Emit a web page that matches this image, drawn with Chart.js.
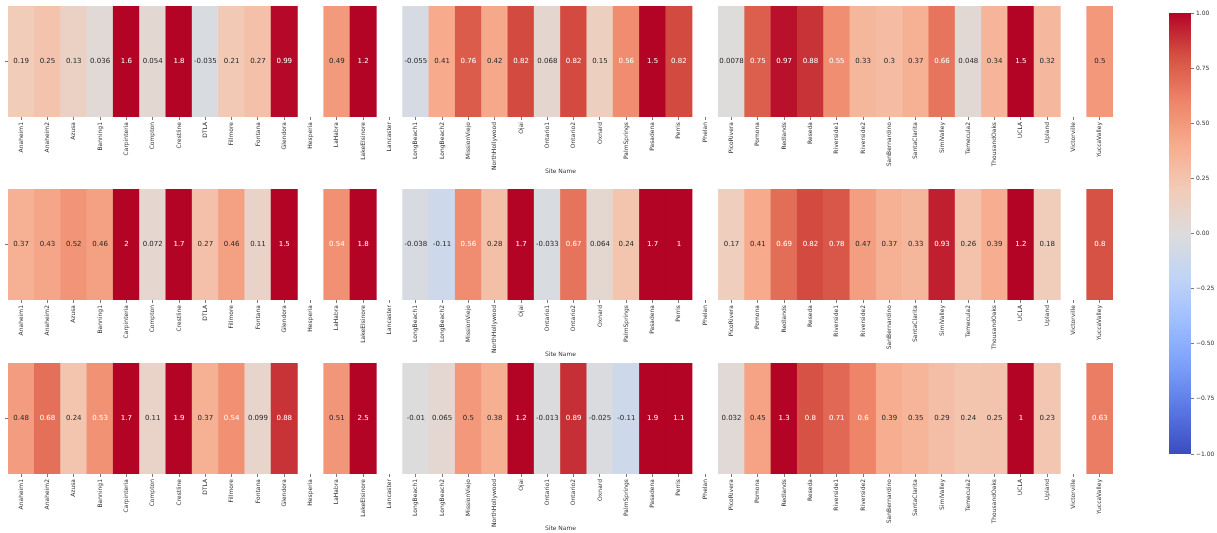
<!DOCTYPE html>
<html>
<head>
<meta charset="utf-8">
<script src="https://cdn.jsdelivr.net/npm/chart.js@4"></script>
<style>
body { margin: 0; background: #fff; width: 1217px; height: 533px; overflow: hidden; position: relative; }
canvas { position: absolute; }
</style>
</head>
<body>
<canvas id="row1" width="1120" height="178" style="left:0;top:0"></canvas>
<canvas id="row2" width="1120" height="178" style="left:0;top:183px"></canvas>
<canvas id="row3" width="1120" height="178" style="left:0;top:357px"></canvas>
<canvas id="colorbar" width="67" height="533" style="left:1150px;top:0"></canvas>
<script>
// Site names along the x axis (same for all three heatmaps)
const sites = ['Anaheim1', 'Anaheim2', 'Azusa', 'Banning1', 'Carpinteria', 'Compton', 'Crestline', 'DTLA',
    'Fillmore', 'Fontana', 'Glendora', 'Hesperia', 'LaHabra', 'LakeElsinore', 'Lancaster', 'LongBeach1',
    'LongBeach2', 'MissionViejo', 'NorthHollywood', 'Ojai', 'Ontario1', 'Ontario2', 'Oxnard', 'PalmSprings',
    'Pasadena', 'Perris', 'Phelan', 'PicoRivera', 'Pomona', 'Redlands', 'Reseda', 'Riverside1', 'Riverside2',
    'SanBernardino', 'SantaClarita', 'SimiValley', 'Temecula2', 'ThousandOaks', 'UCLA', 'Upland',
    'Victorville', 'YuccaValley'];

// Cell values (null = no data for that site)
const row1Values = [0.19, 0.25, 0.13, 0.036, 1.6, 0.054, 1.8, -0.035, 0.21, 0.27, 0.99, null, 0.49, 1.2, null,
    -0.055, 0.41, 0.76, 0.42, 0.82, 0.068, 0.82, 0.15, 0.56, 1.5, 0.82, null, 0.0078, 0.75, 0.97, 0.88, 0.55,
    0.33, 0.3, 0.37, 0.66, 0.048, 0.34, 1.5, 0.32, null, 0.5];
const row2Values = [0.37, 0.43, 0.52, 0.46, 2, 0.072, 1.7, 0.27, 0.46, 0.11, 1.5, null, 0.54, 1.8, null,
    -0.038, -0.11, 0.56, 0.28, 1.7, -0.033, 0.67, 0.064, 0.24, 1.7, 1, null, 0.17, 0.41, 0.69, 0.82, 0.78,
    0.47, 0.37, 0.33, 0.93, 0.26, 0.39, 1.2, 0.18, null, 0.8];
const row3Values = [0.48, 0.68, 0.24, 0.53, 1.7, 0.11, 1.9, 0.37, 0.54, 0.099, 0.88, null, 0.51, 2.5, null,
    -0.01, 0.065, 0.5, 0.38, 1.2, -0.013, 0.89, -0.025, -0.11, 1.9, 1.1, null, 0.032, 0.45, 1.3, 0.8, 0.71,
    0.6, 0.39, 0.35, 0.29, 0.24, 0.25, 1, 0.23, null, 0.63];

// Colour scale range and colorbar ticks
const colorMin = -1;
const colorMax = 1;
const colorbarTicks = [-1, -0.75, -0.5, -0.25, 0, 0.25, 0.5, 0.75, 1];

// coolwarm colormap sampled at 0, 0.1, ... 1
const coolwarmStops = ['#3b4cc0', '#5977e3', '#7b9ff9', '#9ebeff', '#c0d4f5', '#dddcdc',
    '#f2cbb7', '#f7ac8e', '#ee8468', '#d65244', '#b40426'];

const FONT = 'DejaVu Sans';
const TEXT_DARK = '#262626';

function hexToRgb(h) {
    return [parseInt(h.substr(1, 2), 16), parseInt(h.substr(3, 2), 16), parseInt(h.substr(5, 2), 16)];
}

function coolwarmRgb(v) {
    var t = (v - colorMin) / (colorMax - colorMin);
    t = Math.max(0, Math.min(1, t));
    var pos = t * (coolwarmStops.length - 1);
    var i = Math.min(Math.floor(pos), coolwarmStops.length - 2);
    var f = pos - i;
    var a = hexToRgb(coolwarmStops[i]), b = hexToRgb(coolwarmStops[i + 1]);
    return [0, 1, 2].map(k => Math.round(a[k] + (b[k] - a[k]) * f));
}

function coolwarm(v) {
    var c = coolwarmRgb(v);
    return 'rgb(' + c.join(',') + ')';
}

// same rule seaborn uses to pick annotation colour
function textColorFor(v) {
    var c = coolwarmRgb(v).map(x => {
        x = x / 255;
        return x <= 0.03928 ? x / 12.92 : Math.pow((x + 0.055) / 1.055, 2.4);
    });
    var lum = 0.2126 * c[0] + 0.7152 * c[1] + 0.0722 * c[2];
    return lum > 0.408 ? TEXT_DARK : '#ffffff';
}

// like python's ".2g"
function fmt(v) {
    var s = v.toPrecision(2);
    if (s.indexOf('.') >= 0) s = s.replace(/0+$/, '').replace(/\.$/, '');
    return s;
}

function makeRow(id, values) {
    // draws the value in the middle of each cell
    var cellText = {
        id: 'cellText_' + id,
        afterDatasetsDraw: function (chart) {
            var ctx = chart.ctx;
            var area = chart.chartArea;
            var meta = chart.getDatasetMeta(0);
            ctx.save();
            ctx.font = '7px "' + FONT + '"';
            ctx.textAlign = 'center';
            ctx.textBaseline = 'middle';
            meta.data.forEach(function (bar, i) {
                if (values[i] === null) return;
                ctx.fillStyle = textColorFor(values[i]);
                ctx.fillText(fmt(values[i]), bar.x, (area.top + area.bottom) / 2);
            });
            ctx.restore();
        }
    };

    return new Chart(document.getElementById(id), {
        type: 'bar',
        data: {
            labels: sites,
            datasets: [{
                data: values.map(v => v === null ? null : [0, 1]),
                backgroundColor: values.map(v => v === null ? 'rgba(0,0,0,0)' : coolwarm(v)),
                borderWidth: 0,
                barPercentage: 1,
                categoryPercentage: 1
            }]
        },
        options: {
            responsive: false,
            animation: false,
            layout: { padding: { top: 6, right: 7, left: 0, bottom: 0 } },
            plugins: {
                legend: { display: false },
                tooltip: { enabled: false }
            },
            scales: {
                x: {
                    grid: { display: true, drawOnChartArea: false, drawTicks: true, tickLength: 3, offset: false, color: '#555', lineWidth: 0.8 },
                    border: { display: false },
                    ticks: {
                        autoSkip: false, minRotation: 90, maxRotation: 90, padding: 2,
                        font: { size: 6, family: FONT }, color: '#333'
                    },
                    title: {
                        display: true, text: 'Site Name', color: '#333',
                        font: { size: 6, family: FONT }, padding: { top: 2, bottom: 3 }
                    },
                    afterFit: function (scale) { scale.height = 61; }
                },
                y: {
                    min: 0, max: 1,
                    afterBuildTicks: function (scale) { scale.ticks = [{ value: 0.5 }]; },
                    ticks: { callback: () => '', padding: 0, font: { size: 6, family: FONT } },
                    grid: { drawOnChartArea: false, tickLength: 3, color: '#555', lineWidth: 0.8 },
                    border: { display: false },
                    afterFit: function (scale) { scale.width = 8; }
                }
            }
        },
        plugins: [cellText]
    });
}

makeRow('row1', row1Values);
makeRow('row2', row2Values);
makeRow('row3', row3Values);

// Colorbar
new Chart(document.getElementById('colorbar'), {
    type: 'bar',
    data: {
        labels: [''],
        datasets: [{
            data: [[colorMin, colorMax]],
            backgroundColor: function (context) {
                var chart = context.chart;
                if (!chart.chartArea) return coolwarmStops[0];
                var y = chart.scales.y;
                var g = chart.ctx.createLinearGradient(0, y.getPixelForValue(colorMin), 0, y.getPixelForValue(colorMax));
                coolwarmStops.forEach((c, i) => g.addColorStop(i / (coolwarmStops.length - 1), c));
                return g;
            },
            borderWidth: 0,
            barPercentage: 1,
            categoryPercentage: 1
        }]
    },
    options: {
        responsive: false,
        animation: false,
        layout: { padding: { left: 19, top: 13, bottom: 79, right: 0 } },
        plugins: {
            legend: { display: false },
            tooltip: { enabled: false }
        },
        scales: {
            x: { display: false },
            y: {
                position: 'right',
                min: colorMin, max: colorMax,
                afterBuildTicks: function (scale) { scale.ticks = colorbarTicks.map(v => ({ value: v })); },
                ticks: {
                    callback: v => v.toFixed(2).replace('-', '\u2212'),
                    font: { size: 6, family: FONT }, color: '#333', padding: 2
                },
                grid: { drawOnChartArea: false, tickLength: 3, color: '#555', lineWidth: 0.8 },
                border: { display: false },
                afterFit: function (scale) { scale.width = 26; }
            }
        }
    }
});
</script>
</body>
</html>
